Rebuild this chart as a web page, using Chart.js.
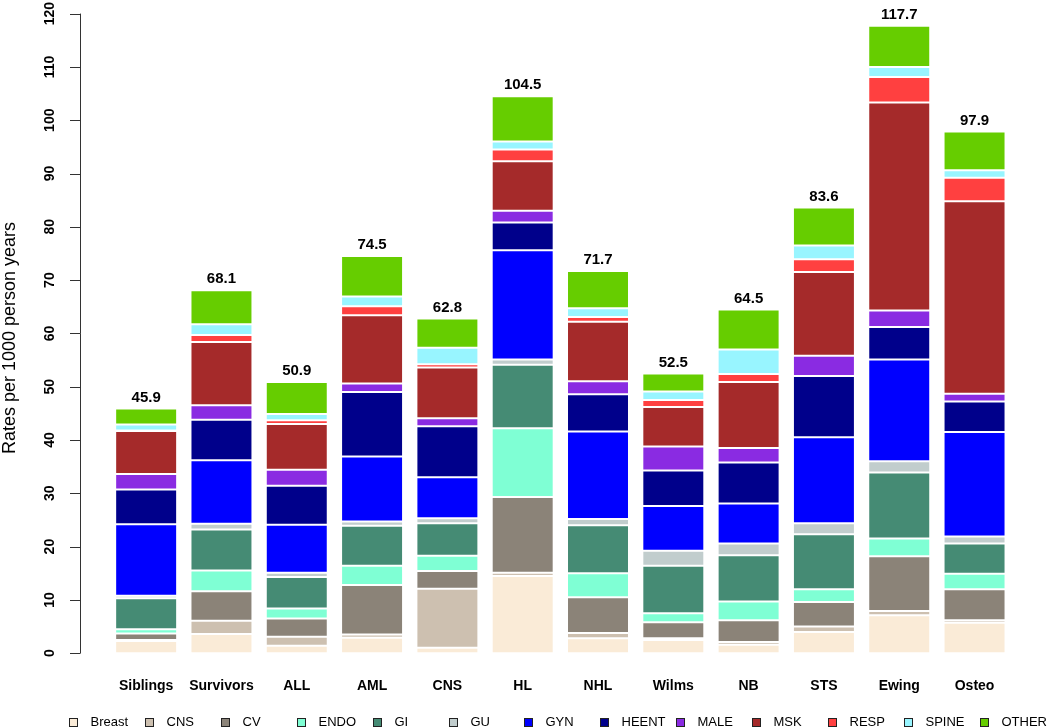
<!DOCTYPE html>
<html>
<head>
<meta charset="utf-8">
<script src="https://cdn.jsdelivr.net/npm/chart.js@4.4.0/dist/chart.umd.min.js"></script>
<style>
  html, body { margin: 0; padding: 0; background: #fff; }
  #wrap { width: 1050px; height: 728px; position: relative; }
</style>
</head>
<body>
<div id="wrap"><canvas id="rateChart" width="1050" height="728"></canvas></div>
<script>
// groups along the x axis
const groups = ["Siblings", "Survivors", "ALL", "AML", "CNS", "HL", "NHL", "Wilms", "NB", "STS", "Ewing", "Osteo"];

// rates per 1000 person years, one array per organ system (bottom to top)
const breast = [2.3, 3.6, 1.4, 2.9, 1.0, 14.5, 2.8, 2.5, 1.6, 4.0, 7.1, 5.7];
const cns    = [0.2, 2.5, 1.7, 0.6, 11.1, 0.6, 1.0, 0.3, 0.5, 1.0, 0.8, 0.5];
const cv     = [1.2, 5.5, 3.4, 9.3, 3.3, 14.2, 6.7, 3.0, 4.1, 4.6, 10.3, 5.8];
const endo   = [0.8, 3.9, 1.9, 3.6, 2.9, 12.9, 4.5, 1.7, 3.5, 2.4, 3.3, 2.9];
const gi     = [5.8, 7.7, 5.9, 7.5, 6.1, 11.9, 9.0, 8.9, 8.7, 10.3, 12.4, 5.7];
const gu     = [0.5, 1.1, 0.8, 0.8, 0.9, 1.0, 1.2, 2.8, 2.2, 2.1, 2.1, 1.3];
const gyn    = [13.4, 11.9, 9.0, 12.2, 7.7, 20.5, 16.4, 8.4, 7.5, 16.1, 19.1, 19.6];
const heent  = [6.5, 7.6, 7.3, 12.1, 9.6, 5.2, 7.0, 6.7, 7.7, 11.5, 6.1, 5.7];
const male   = [2.9, 2.7, 3.0, 1.6, 1.5, 2.2, 2.4, 4.5, 2.7, 3.8, 3.1, 1.5];
const msk    = [8.1, 11.9, 8.6, 12.8, 9.5, 9.3, 11.2, 7.4, 12.4, 15.7, 39.0, 36.1];
const resp   = [0.1, 1.3, 0.7, 1.7, 0.6, 2.2, 0.9, 1.3, 1.5, 2.4, 4.8, 4.4];
const spine  = [1.1, 2.0, 1.2, 1.8, 3.1, 1.5, 1.6, 1.6, 4.6, 2.6, 1.9, 1.4];
const other  = [3.0, 6.4, 6.0, 7.6, 5.5, 8.5, 7.0, 3.4, 7.5, 7.1, 7.7, 7.3];

// totals printed above the bars
const totals = [45.9, 68.1, 50.9, 74.5, 62.8, 104.5, 71.7, 52.5, 64.5, 83.6, 117.7, 97.9];

// y axis ticks
const yTicks = [0, 10, 20, 30, 40, 50, 60, 70, 80, 90, 100, 110, 120];

const seriesNames = ["Breast", "CNS", "CV", "ENDO", "GI", "GU", "GYN", "HEENT", "MALE", "MSK", "RESP", "SPINE", "OTHER"];
const seriesData = [breast, cns, cv, endo, gi, gu, gyn, heent, male, msk, resp, spine, other];
const seriesColors = ["#FAEBD7", "#CDC0B0", "#8B8378", "#7FFFD4", "#458B74", "#C1CDCD", "#0000FF",
                      "#00008B", "#8A2BE2", "#A52A2A", "#FF4040", "#98F5FF", "#66CD00"];

const FONT = "'Liberation Sans', Arial, sans-serif";

// y axis, title, totals and legend drawn R-style
const extras = {
    id: "extras",
    afterDraw(chart) {
        const ctx = chart.ctx;
        const y = chart.scales.y;
        const x = chart.scales.x;
        ctx.save();

        // axis line + ticks
        ctx.strokeStyle = "#333";
        ctx.lineWidth = 1;
        ctx.beginPath();
        ctx.moveTo(80.5, y.getPixelForValue(yTicks[0]));
        ctx.lineTo(80.5, y.getPixelForValue(yTicks[yTicks.length - 1]));
        yTicks.forEach(v => {
            const py = Math.round(y.getPixelForValue(v)) + 0.5;
            ctx.moveTo(80.5, py);
            ctx.lineTo(70, py);
        });
        ctx.stroke();

        ctx.fillStyle = "#000";
        ctx.textAlign = "center";
        ctx.textBaseline = "middle";
        ctx.font = "bold 14px " + FONT;
        yTicks.forEach(v => {
            ctx.save();
            ctx.translate(50, y.getPixelForValue(v));
            ctx.rotate(-Math.PI / 2);
            ctx.fillText(String(v), 0, 0);
            ctx.restore();
        });

        // axis title
        ctx.save();
        ctx.translate(10, 338);
        ctx.rotate(-Math.PI / 2);
        ctx.font = "18px " + FONT;
        ctx.fillText("Rates per 1000 person years", 0, 0);
        ctx.restore();

        // totals above the stacks
        ctx.font = "bold 15px " + FONT;
        totals.forEach((t, i) => {
            ctx.fillText(t.toFixed(1), x.getPixelForValue(i), y.getPixelForValue(t) - 11);
        });

        // legend
        ctx.font = "13px " + FONT;
        ctx.textAlign = "left";
        seriesNames.forEach((name, i) => {
            const bx = Math.round(69 + 75.9 * i) + 0.5;
            const by = 718.5;
            ctx.fillStyle = seriesColors[i];
            ctx.fillRect(bx, by, 8, 8);
            ctx.strokeStyle = "#222";
            ctx.strokeRect(bx, by, 8, 8);
            ctx.fillStyle = "#000";
            ctx.fillText(name, bx + 21, 722.5);
        });

        ctx.restore();
    }
};

new Chart(document.getElementById("rateChart"), {
    type: "bar",
    data: {
        labels: groups,
        datasets: seriesNames.map((name, i) => ({
            label: name,
            data: seriesData[i],
            backgroundColor: seriesColors[i],
            borderColor: "rgba(255,255,255,0.75)",
            borderWidth: 1,
            borderSkipped: false,
            categoryPercentage: 1,
            barPercentage: 0.823
        }))
    },
    options: {
        responsive: false,
        animation: false,
        devicePixelRatio: 1,
        layout: { padding: { left: 108.5, right: 37.8, top: 13.6, bottom: 8 } },
        scales: {
            x: {
                stacked: true,
                grid: { display: false, drawTicks: false },
                border: { display: false },
                ticks: { color: "#000", padding: 25, font: { family: FONT, size: 14, weight: "bold" } }
            },
            y: {
                stacked: true,
                display: false,
                min: 0,
                max: 120
            }
        },
        plugins: {
            legend: { display: false },
            tooltip: { enabled: false }
        }
    },
    plugins: [extras]
});
</script>
</body>
</html>
